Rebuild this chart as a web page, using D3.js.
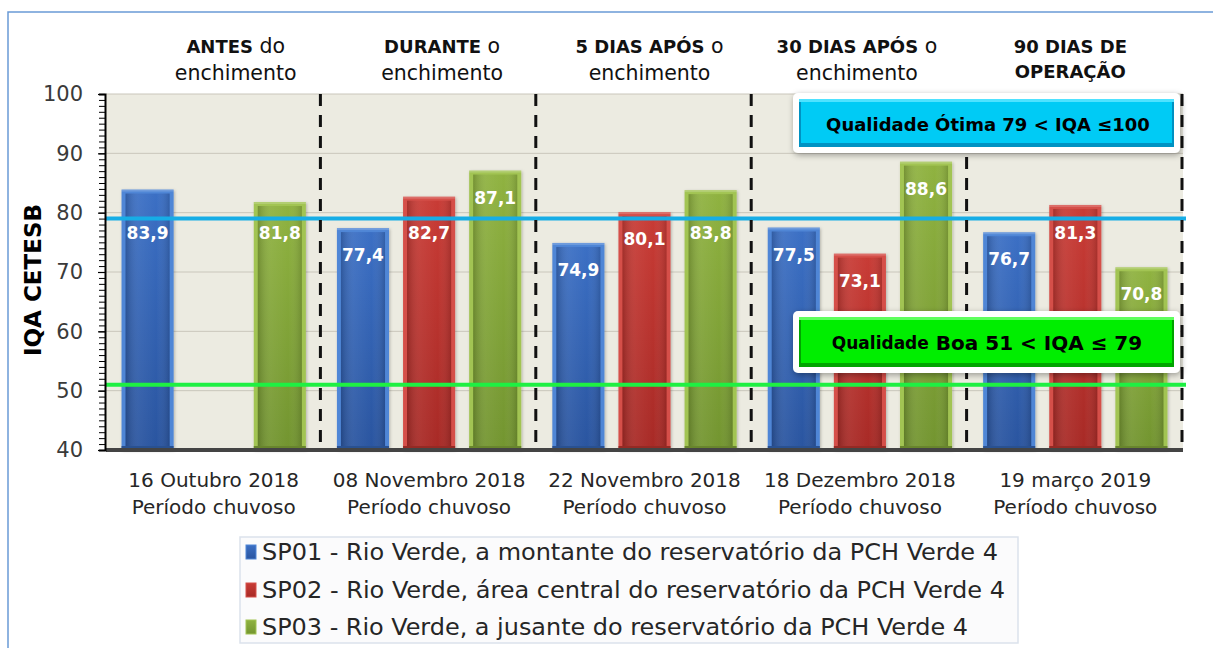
<!DOCTYPE html>
<html>
<head>
<meta charset="utf-8">
<script src="https://cdn.jsdelivr.net/npm/d3@7"></script>
<style>
  html, body { margin: 0; padding: 0; background: #ffffff; }
  svg { display: block; }
</style>
</head>
<body>
<svg id="chart" width="1213" height="648"></svg>
<script>
// ---------- DATA ----------
const categories = ["16 Outubro 2018", "08 Novembro 2018", "22 Novembro 2018", "18 Dezembro 2018", "19 março 2019"];
const periodLabels = ["Período chuvoso", "Período chuvoso", "Período chuvoso", "Período chuvoso", "Período chuvoso"];
const phaseBold = ["ANTES", "DURANTE", "5 DIAS APÓS", "30 DIAS APÓS", "90 DIAS DE"];
const phaseRest = [" do", " o", " o", " o", ""];
const phaseLine2 = ["enchimento", "enchimento", "enchimento", "enchimento", "OPERAÇÃO"];
const seriesNames = [
  "SP01 - Rio Verde, a montante do reservatório da PCH Verde 4",
  "SP02 - Rio Verde, área central do reservatório da PCH Verde 4",
  "SP03 - Rio Verde, a jusante do reservatório da PCH Verde 4"
];
const sp01 = [83.9, 77.4, 74.9, 77.5, 76.7];
const sp02 = [null, 82.7, 80.1, 73.1, 81.3];
const sp03 = [81.8, 87.1, 83.8, 88.6, 70.8];
const yTicks = [40, 50, 60, 70, 80, 90, 100];
const thresholdOtima = 79;
const thresholdBoa = 51;
const yTitle = "IQA CETESB";

// ---------- LAYOUT ----------
const svg = d3.select("#chart");
const plot = { left: 106, right: 1183, top: 94, bottom: 450 };
const seriesValues = [sp01, sp02, sp03];
const seriesColors = [
  { edge: "#4f86d6", top: "#3b6fc4", bottom: "#2a55a0", base: "#1f4480" },
  { edge: "#d5504a", top: "#c83b35", bottom: "#a82a26", base: "#84201c" },
  { edge: "#a2c453", top: "#8fb240", bottom: "#739530", base: "#5a7624" }
];

const x0 = d3.scaleBand().domain(categories).range([plot.left, plot.right]).padding(0);
const x1 = d3.scaleBand().domain([0, 1, 2]).range([0, x0.bandwidth()]).paddingInner(0.212).paddingOuter(0.235);
const y = d3.scaleLinear().domain([40, 100]).range([plot.bottom, plot.top]);

const defs = svg.append("defs");
seriesColors.forEach((c, i) => {
  const g = defs.append("linearGradient").attr("id", "body" + i).attr("x1", 0).attr("y1", 0).attr("x2", 0).attr("y2", 1);
  g.append("stop").attr("offset", "0%").attr("stop-color", c.top);
  g.append("stop").attr("offset", "100%").attr("stop-color", c.bottom);
  const h = defs.append("linearGradient").attr("id", "side" + i).attr("x1", 0).attr("y1", 0).attr("x2", 1).attr("y2", 0);
  h.append("stop").attr("offset", "0%").attr("stop-color", "#000").attr("stop-opacity", 0.18);
  h.append("stop").attr("offset", "30%").attr("stop-color", "#fff").attr("stop-opacity", 0.06);
  h.append("stop").attr("offset", "70%").attr("stop-color", "#fff").attr("stop-opacity", 0.0);
  h.append("stop").attr("offset", "100%").attr("stop-color", "#000").attr("stop-opacity", 0.15);
});
const sh = defs.append("filter").attr("id", "shadow").attr("x", "-10%").attr("y", "-30%").attr("width", "120%").attr("height", "160%");
sh.append("feDropShadow").attr("dx", 1).attr("dy", 2).attr("stdDeviation", 3).attr("flood-color", "#000").attr("flood-opacity", 0.35);
const bsh = defs.append("filter").attr("id", "barshadow").attr("x", "-20%").attr("y", "-5%").attr("width", "140%").attr("height", "110%");
bsh.append("feDropShadow").attr("dx", 1).attr("dy", 1).attr("stdDeviation", 1.5).attr("flood-color", "#000").attr("flood-opacity", 0.25);

// outer frame
svg.append("path").attr("d", "M8,648 V12 H1213").attr("fill", "none").attr("stroke", "#6a9ad6").attr("stroke-width", 1.5);

// plot background
svg.append("rect").attr("x", plot.left).attr("y", plot.top)
  .attr("width", plot.right - plot.left).attr("height", plot.bottom - plot.top)
  .attr("fill", "#ecebe1");

// gridlines
svg.append("g").selectAll("line").data(yTicks.filter(t => t > 40)).join("line")
  .attr("x1", plot.left).attr("x2", plot.right)
  .attr("y1", d => y(d)).attr("y2", d => y(d))
  .attr("stroke", "#c9c6bb").attr("stroke-width", 1);

// bars
const barData = [];
categories.forEach((c, ci) => {
  seriesValues.forEach((s, si) => {
    if (s[ci] != null) barData.push({ cat: c, si: si, v: s[ci] });
  });
});
const bars = svg.append("g").selectAll("g").data(barData).join("g")
  .attr("transform", d => `translate(${x0(d.cat) + x1(d.si)},0)`);
const bw = x1.bandwidth();
bars.append("rect").attr("x", 0).attr("y", d => y(d.v)).attr("width", bw).attr("height", d => y(40) - y(d.v))
  .attr("fill", d => seriesColors[d.si].edge).attr("filter", "url(#barshadow)");
bars.append("rect").attr("x", 4).attr("y", d => y(d.v) + 4).attr("width", bw - 8).attr("height", d => y(40) - y(d.v) - 8)
  .attr("fill", d => `url(#body${d.si})`);
bars.append("rect").attr("x", 4).attr("y", d => y(d.v) + 4).attr("width", bw - 8).attr("height", d => y(40) - y(d.v) - 8)
  .attr("fill", d => `url(#side${d.si})`);
bars.append("rect").attr("x", 0).attr("y", y(40) - 4).attr("width", bw).attr("height", 4)
  .attr("fill", d => seriesColors[d.si].base).attr("opacity", 0.8);
bars.append("rect").attr("x", 0).attr("y", d => y(d.v)).attr("width", bw).attr("height", 2)
  .attr("fill", "#ffffff").attr("opacity", 0.18);

// value labels (shifted below the "Ótima" line when colliding)
const lineY = y(thresholdOtima);
bars.append("text")
  .attr("x", bw / 2)
  .attr("y", d => {
    let ly = y(d.v) + 27;
    if (Math.abs(ly - lineY) < 15) ly = lineY + 14;
    return ly;
  })
  .attr("text-anchor", "middle").attr("dominant-baseline", "central")
  .attr("font-family", "DejaVu Sans, sans-serif").attr("font-weight", "bold").attr("font-size", 17)
  .attr("fill", "#ffffff")
  .text(d => d.v.toFixed(1).replace(".", ","));

// threshold lines
svg.append("line").attr("x1", plot.left).attr("x2", plot.right + 3)
  .attr("y1", y(thresholdOtima)).attr("y2", y(thresholdOtima))
  .attr("stroke", "#16ade6").attr("stroke-width", 4);
svg.append("line").attr("x1", plot.left).attr("x2", plot.right + 3)
  .attr("y1", y(thresholdBoa)).attr("y2", y(thresholdBoa))
  .attr("stroke", "#1ef042").attr("stroke-width", 4);

// dashed separators
svg.append("g").selectAll("line").data(categories).join("line")
  .attr("x1", d => x0(d) + x0.bandwidth() - 1).attr("x2", d => x0(d) + x0.bandwidth() - 1)
  .attr("y1", plot.top).attr("y2", plot.bottom - 3)
  .attr("stroke", "#111").attr("stroke-width", 3).attr("stroke-dasharray", "12,9");

// x axis base line
svg.append("line").attr("x1", plot.left).attr("x2", plot.right)
  .attr("y1", plot.bottom).attr("y2", plot.bottom)
  .attr("stroke", "#444").attr("stroke-width", 4);

// y axis: minor ticks
const minorAxis = d3.axisLeft(y).ticks(60).tickSize(6).tickFormat("");
svg.append("g").attr("transform", `translate(${plot.left - 1},0)`).call(minorAxis)
  .call(g => g.select(".domain").attr("stroke", "#000").attr("stroke-width", 2))
  .call(g => g.selectAll(".tick line").attr("stroke", "#000").attr("stroke-width", 1));
// y axis: major labels
const majorAxis = d3.axisLeft(y).tickValues(yTicks).tickSize(7).tickPadding(15).tickFormat(d3.format("d"));
svg.append("g").attr("transform", `translate(${plot.left - 1},0)`).call(majorAxis)
  .call(g => g.select(".domain").remove())
  .call(g => g.selectAll(".tick line").attr("stroke", "#000").attr("stroke-width", 1.2))
  .call(g => g.selectAll(".tick text").attr("font-family", "DejaVu Sans, sans-serif").attr("font-size", 21).attr("fill", "#3a3a3a"));

// y title
svg.append("text").attr("transform", "translate(33,280) rotate(-90)")
  .attr("text-anchor", "middle").attr("dominant-baseline", "central")
  .attr("font-family", "DejaVu Sans, sans-serif").attr("font-weight", "bold").attr("font-size", 23)
  .attr("fill", "#000").text(yTitle);

// x category labels
const xl = svg.append("g").selectAll("text").data(categories).join("text")
  .attr("text-anchor", "middle")
  .attr("font-family", "DejaVu Sans, sans-serif").attr("font-size", 20).attr("fill", "#262626");
xl.append("tspan").attr("x", d => x0(d) + x0.bandwidth() / 2).attr("y", 487).text(d => d);
xl.append("tspan").attr("x", d => x0(d) + x0.bandwidth() / 2).attr("y", 514).text((d, i) => periodLabels[i]);

// phase headers
const headerShift = [22, 13, 5, -3, -5];
const hd = svg.append("g").selectAll("g").data(categories).join("g")
  .attr("transform", (d, i) => `translate(${x0(d) + x0.bandwidth() / 2 + headerShift[i]},0)`);
const h1 = hd.append("text").attr("y", 53).attr("text-anchor", "middle")
  .attr("font-family", "DejaVu Sans, sans-serif").attr("fill", "#111");
h1.append("tspan").attr("font-weight", "bold").attr("font-size", 18).text((d, i) => phaseBold[i]);
h1.append("tspan").attr("font-size", 20.5).text((d, i) => phaseRest[i]);
hd.append("text").attr("y", (d, i) => i === 4 ? 78 : 80).attr("text-anchor", "middle")
  .attr("font-family", "DejaVu Sans, sans-serif").attr("fill", "#111")
  .attr("font-weight", (d, i) => i === 4 ? "bold" : "normal")
  .attr("font-size", (d, i) => i === 4 ? 18 : 20.5)
  .text((d, i) => phaseLine2[i]);

// quality badges
function badge(x, yTop, w, h, fill, light, dark) {
  const g = svg.append("g");
  g.append("rect").attr("x", x).attr("y", yTop).attr("width", w).attr("height", h).attr("rx", 5)
    .attr("fill", "#ffffff").attr("filter", "url(#shadow)");
  const ix = x + 6, iy = yTop + 6, iw = w - 12, ih = h - 12;
  g.append("rect").attr("x", ix).attr("y", iy).attr("width", iw).attr("height", ih).attr("fill", dark);
  g.append("rect").attr("x", ix + 2).attr("y", iy).attr("width", iw - 4).attr("height", ih - 4).attr("fill", fill);
  g.append("rect").attr("x", ix).attr("y", iy).attr("width", iw).attr("height", 3).attr("fill", light);
  return g;
}
const b1 = badge(793, 93, 387, 60, "#00cbf5", "#4ee2ff", "#0092c2");
b1.append("text").attr("x", 988).attr("y", 124).attr("text-anchor", "middle").attr("dominant-baseline", "central")
  .attr("font-family", "DejaVu Sans, sans-serif").attr("font-weight", "bold").attr("font-size", 18).attr("fill", "#000")
  .text("Qualidade Ótima 79 < IQA ≤100");
const b2 = badge(793, 311, 387, 62, "#00ee00", "#5dff5d", "#00a400");
const t2 = b2.append("text").attr("x", 987).attr("y", 343).attr("text-anchor", "middle").attr("dominant-baseline", "central")
  .attr("font-family", "DejaVu Sans, sans-serif").attr("font-weight", "bold").attr("fill", "#000");
t2.append("tspan").attr("font-size", 17).text("Qualidade");
t2.append("tspan").attr("font-size", 20).text(" Boa 51 < IQA ≤ 79");

// legend
const lg = svg.append("g");
lg.append("rect").attr("x", 240).attr("y", 537).attr("width", 778).attr("height", 106)
  .attr("fill", "#fbfbfc").attr("stroke", "#dbe2ec").attr("stroke-width", 1.5);
const rowY = [552, 590, 627];
const legendWidths = [736, 743, 706];
seriesNames.forEach((name, i) => {
  lg.append("rect").attr("x", 246).attr("y", rowY[i] - 7).attr("width", 10).attr("height", 14)
    .attr("fill", `url(#body${i})`).attr("stroke", seriesColors[i].edge).attr("stroke-width", 1);
  lg.append("text").attr("x", 262).attr("y", rowY[i]).attr("dominant-baseline", "central")
    .attr("font-family", "Liberation Sans Narrow, DejaVu Sans Condensed, DejaVu Sans, sans-serif").attr("font-size", 23)
    .attr("fill", "#262626")
    .attr("textLength", legendWidths[i]).attr("lengthAdjust", "spacingAndGlyphs")
    .text(name);
});
</script>
</body>
</html>
